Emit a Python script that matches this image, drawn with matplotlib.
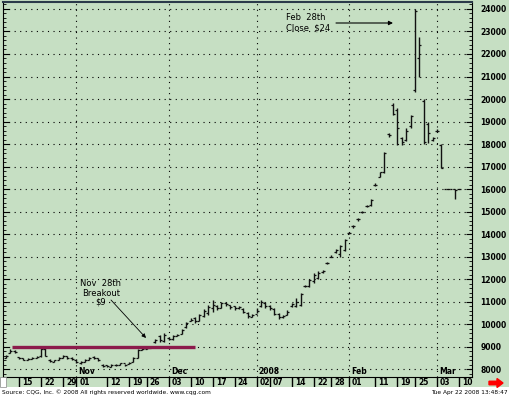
import matplotlib
matplotlib.use('Agg')
import matplotlib.pyplot as plt
from matplotlib.ticker import MultipleLocator
from matplotlib.patches import Rectangle, FancyArrow
from matplotlib.transforms import IdentityTransform
import numpy as np
import pandas as pd

# trading days shown (exchange holidays removed)
holidays = ['2007-11-22', '2007-12-25', '2008-01-01', '2008-01-21', '2008-02-18']
days = pd.bdate_range('2007-10-10', '2008-03-10')
days = days[~days.isin(pd.to_datetime(holidays))]

# Oct 10 .. Oct 31
opens_oct = [8500, 8720, 8820, 8520, 8470, 8420, 8460, 8500, 8560, 8900, 8420, 8330, 8420, 8500, 8560, 8500]
highs_oct = [8620, 8890, 8840, 8530, 8490, 8490, 8530, 8580, 8930, 8930, 8440, 8400, 8530, 8620, 8580, 8530]
lows_oct = [8490, 8710, 8710, 8440, 8400, 8400, 8440, 8490, 8530, 8580, 8310, 8310, 8400, 8490, 8440, 8400]
closes_oct = [8600, 8800, 8750, 8480, 8420, 8450, 8480, 8550, 8900, 8600, 8350, 8380, 8500, 8600, 8500, 8450]

# Nov
opens_nov = [8420, 8250, 8320, 8420, 8520, 8470, 8200, 8160, 8110, 8200, 8190, 8250, 8230, 8320, 8500, 8860, 8900, 8950, 9180, 9450, 9250]
highs_nov = [8440, 8350, 8440, 8530, 8580, 8490, 8220, 8180, 8220, 8220, 8270, 8220, 8310, 8530, 8890, 8980, 8980, 9020, 9330, 9510, 9600]
lows_nov = [8270, 8220, 8310, 8400, 8440, 8350, 8090, 8090, 8090, 8130, 8180, 8130, 8220, 8310, 8490, 8840, 8890, 8930, 9160, 9200, 9200]
closes_nov = [8300, 8300, 8400, 8500, 8500, 8400, 8150, 8130, 8200, 8180, 8250, 8200, 8280, 8500, 8850, 8900, 8950, 8980, 9300, 9300, 9500]

# Dec
opens_dec = [9400, 9330, 9470, 9560, 9850, 10150, 10250, 10150, 10350, 10500, 10700, 10800, 10720, 10950, 10850, 10780, 10700, 10680, 10500, 10330]
highs_dec = [9420, 9500, 9550, 9780, 10100, 10250, 10300, 10450, 10650, 10850, 11050, 10850, 11000, 10980, 10850, 10800, 10800, 10700, 10550, 10450]
lows_dec = [9290, 9300, 9450, 9550, 9820, 10120, 10050, 10130, 10300, 10400, 10550, 10620, 10700, 10800, 10670, 10620, 10670, 10480, 10270, 10300]
closes_dec = [9350, 9450, 9500, 9750, 10050, 10200, 10150, 10400, 10600, 10750, 10850, 10700, 10950, 10900, 10750, 10700, 10750, 10550, 10350, 10400]

# Jan
opens_jan = [10450, 10780, 10950, 10820, 10650, 10450, 10300, 10420, 10780, 10800, 10850, 11700, 11700, 11900, 12050, 12300, 12700, 13000, 13200, 13100, 13300]
highs_jan = [10700, 11070, 10980, 10850, 10700, 10500, 10400, 10620, 10930, 11150, 11380, 11750, 12000, 12270, 12350, 12400, 12750, 13050, 13330, 13500, 13780]
lows_jan = [10480, 10750, 10700, 10620, 10400, 10220, 10270, 10400, 10750, 10750, 10800, 11650, 11650, 11820, 12000, 12270, 12650, 12980, 13150, 13000, 13250]
closes_jan = [10600, 11000, 10800, 10700, 10450, 10300, 10350, 10550, 10900, 11000, 11350, 11700, 11950, 12200, 12250, 12350, 12700, 13000, 13300, 13450, 13750]

# Feb
opens_feb = [14050, 14350, 14650, 15000, 15250, 15300, 16200, 16550, 16750, 18450, 19750, 19500, 18250, 18200, 18800, 20400, 21800, 19900, 18900, 18200]
highs_feb = [14100, 14400, 14700, 15020, 15300, 15550, 16250, 16760, 17650, 18500, 19820, 19600, 18300, 18700, 19300, 24000, 22750, 20000, 19000, 18300]
lows_feb = [14000, 14270, 14600, 14930, 15200, 15250, 16150, 16530, 16700, 18300, 19300, 17950, 17950, 18130, 18700, 20300, 21000, 18000, 18050, 18150]
closes_feb = [14050, 14350, 14650, 15000, 15250, 15500, 16200, 16750, 17600, 18400, 19350, 18700, 18100, 18600, 19250, 23900, 22400, 18100, 18500, 18250]

# Mar 3 .. Mar 10
opens_mar = [18600, 17950, 16000, 16000, 16000, 16000]
highs_mar = [18650, 18000, 16000, 16000, 16000, 16000]
lows_mar = [18550, 16930, 16000, 16000, 15560, 16000]
closes_mar = [18600, 16950, 16000, 16000, 15950, 16000]

opens = opens_oct + opens_nov + opens_dec + opens_jan + opens_feb + opens_mar
highs = highs_oct + highs_nov + highs_dec + highs_jan + highs_feb + highs_mar
lows = lows_oct + lows_nov + lows_dec + lows_jan + lows_feb + lows_mar
closes = closes_oct + closes_nov + closes_dec + closes_jan + closes_feb + closes_mar

week_ticks = ['2007-10-15', '2007-10-22', '2007-10-29', '2007-11-01', '2007-11-12', '2007-11-19',
              '2007-11-26', '2007-12-03', '2007-12-10', '2007-12-17', '2007-12-24', '2008-01-02',
              '2008-01-07', '2008-01-14', '2008-01-22', '2008-01-28', '2008-02-01', '2008-02-11',
              '2008-02-19', '2008-02-25', '2008-03-03', '2008-03-10']
month_starts = ['2007-11-01', '2007-12-03', '2008-01-02', '2008-02-01', '2008-03-03']
month_names = ['Nov', 'Dec', '2008', 'Feb', 'Mar']

breakout_level = 9000
breakout_span = ('2007-10-11', '2007-12-11')

green = '#c6dfc3'
W, H = 510, 397

def pos(d):
    return days.get_loc(pd.Timestamp(d))

fig = plt.figure(figsize=(W / 100, H / 100), dpi=100)
fig.patch.set_facecolor('white')
fig.patches.append(Rectangle((0, 10 / H), 1, 1 - 10 / H, transform=fig.transFigure,
                             facecolor=green, edgecolor='none', zorder=-5))

ax = fig.add_axes([3 / W, 20 / H, 469 / W, 375 / H])
ax.set_facecolor(green)
x = np.arange(len(days))

ax.vlines(x, lows, highs, color='#111111', linewidth=1.0, zorder=3)
ax.hlines(opens, x - 0.45, x, color='#111111', linewidth=0.9, zorder=3)
ax.hlines(closes, x, x + 0.45, color='#111111', linewidth=0.9, zorder=3)

ax.set_xlim(-0.64, 105.95)
ax.set_ylim(7645, 24311)

# dotted grid
ax.yaxis.set_major_locator(MultipleLocator(1000))
ax.yaxis.set_minor_locator(MultipleLocator(200))
ax.grid(True, axis='y', which='major', color='black', linestyle=(0, (1, 4)), linewidth=0.8)
for d in month_starts:
    ax.axvline(pos(d), color='black', linestyle=(0, (1, 4)), linewidth=0.8, zorder=1)
for d, name in zip(month_starts, month_names):
    ax.text(pos(d) + 0.5, 0.004, name, transform=ax.get_xaxis_transform(),
            fontsize=5.5, fontweight='bold', ha='left', va='bottom')

# breakout line
ax.hlines(breakout_level, pos(breakout_span[0]) + 0.3, pos(breakout_span[1]),
          color='#8c1b4b', linewidth=2.4, zorder=4)

ax.yaxis.tick_right()
ax.tick_params(axis='y', which='both', direction='in', left=True, right=True,
               labelleft=False, labelright=True, labelsize=5.5, pad=6)
ax.tick_params(axis='y', which='major', length=4)
ax.tick_params(axis='y', which='minor', length=2)
ax.tick_params(axis='x', bottom=False, labelbottom=False)
for lab in ax.get_yticklabels():
    lab.set_fontweight('bold')
for side in ['left', 'right', 'bottom']:
    ax.spines[side].set_color('black')
ax.spines['top'].set_color('#2b3a4a')
ax.spines['top'].set_linewidth(1.5)

# date strip under the chart
ax2 = fig.add_axes([3 / W, 10 / H, 469 / W, 10 / H], sharex=ax)
ax2.set_facecolor(green)
ax2.set_ylim(0, 1)
ax2.axis('off')
for d in week_ticks:
    p = pos(d)
    ax2.vlines(p, 0, 1, color='black', linewidth=1.0)
    ax2.text(p + 0.7, 0.45, pd.Timestamp(d).strftime('%d'), fontsize=5.5,
             fontweight='bold', ha='left', va='center')
fig.patches.append(Rectangle((0, 10 / H), 6 / W, 10 / H, transform=fig.transFigure,
                             facecolor='white', edgecolor='#888888', linewidth=0.5, zorder=5))

fig.patches.append(FancyArrow(489, 14, 8, 0, width=3.5, head_width=9, head_length=6,
                              length_includes_head=False, color='red',
                              transform=IdentityTransform(), figure=fig))

# notes
fig.text(101 / W, 1 - 293 / H, 'Nov  28th\nBreakout\n$9', fontsize=6,
         ha='center', va='center', linespacing=1.05)
ax.annotate('', xy=(146, 59), xytext=(111, 97),
            xycoords='figure pixels', textcoords='figure pixels',
            arrowprops=dict(arrowstyle='-|>', color='black', lw=0.6,
                            shrinkA=0, shrinkB=0, mutation_scale=6))
ax.annotate('', xy=(393, 374), xytext=(336, 374),
            xycoords='figure pixels', textcoords='figure pixels',
            arrowprops=dict(arrowstyle='-|>', color='black', lw=0.8,
                            shrinkA=0, shrinkB=0, mutation_scale=6))
fig.text(286 / W, 1 - 17 / H, 'Feb  28th', fontsize=6, ha='left', va='center')
fig.text(286 / W, 1 - 28 / H, 'Close  $24', fontsize=6, ha='left', va='center')

fig.text(2 / W, 4.5 / H, 'Source: CQG, Inc. \u00a9 2008 All rights reserved worldwide. www.cqg.com',
         fontsize=4.2, ha='left', va='center')
fig.text(508 / W, 4.5 / H, 'Tue Apr 22 2008 13:48:47', fontsize=4.2, ha='right', va='center')

fig.savefig('out.png', dpi=100)
